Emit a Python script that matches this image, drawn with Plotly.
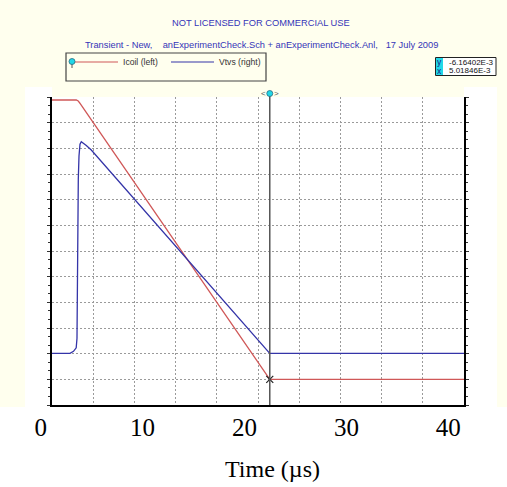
import plotly.graph_objects as go

W, H = 507, 487

# ---- data (time in microseconds) ----
t_icoil = [1.109, 3.494, 3.680, 3.827, 22.48, 41.54]
icoil_mA = [48.25, 48.25, 48.06, 47.67, -6.164, -6.164]

t_vtvs = [1.109, 2.875, 3.219, 3.484, 3.562, 3.611, 3.690, 3.759, 3.857,
          3.984, 4.200, 4.475, 4.966, 22.48, 41.54]
vtvs_V = [10.07, 10.07, 10.45, 11.14, 13.0, 40.0, 44.0, 48.5, 50.8,
          51.29, 51.0, 50.55, 49.68, 10.07, 10.07]

cursor_t = 22.48
cursor_y_text = "-6.16402E-3"
cursor_x_text = "5.01846E-3"

time_ticks = [0, 10, 20, 30, 40]
time_tick_text = ["0", "10", "20", "30", "40"]

# axis ranges
t_range = [1.109, 41.54]
i_range = [-11.164, 48.836]   # 12 divisions of 5 mA
v_range = [0, 60]             # 12 divisions of 5 V

CREAM = "#FFFFEE"
RED = "#D05858"
BLUE = "#3434A8"
GRID = "#9A9A9A"
TITLE_BLUE = "#3535B8"
SANS = "Liberation Sans, Arial, sans-serif"
SERIF = "Liberation Serif, Times New Roman, serif"


def px(x):
    return x / W


def py(y):
    return 1 - y / H


fig = go.Figure()
fig.add_trace(go.Scatter(x=t_icoil, y=icoil_mA, mode="lines", name="Icoil (left)",
                         line=dict(color=RED, width=1.3), yaxis="y", hoverinfo="skip"))
fig.add_trace(go.Scatter(x=t_vtvs, y=vtvs_V, mode="lines", name="Vtvs (right)",
                         line=dict(color=BLUE, width=1.3), yaxis="y2", hoverinfo="skip"))
# cursor crossing marker on Icoil
fig.add_trace(go.Scatter(x=[cursor_t], y=[icoil_mA[-1]], mode="markers",
                         marker=dict(symbol="x-thin", size=7, line=dict(color="#222", width=1.2)),
                         yaxis="y", hoverinfo="skip", showlegend=False))
# carrier for the time-label axis
fig.add_trace(go.Scatter(x=[None], y=[None], xaxis="x2", yaxis="y3",
                         showlegend=False, hoverinfo="skip"))

plot_x0, plot_x1 = 52, 464
plot_y0, plot_y1 = 97, 405

shapes = [
    # cream window background and white panel
    dict(type="rect", xref="paper", yref="paper", x0=0, x1=1, y0=py(407), y1=1,
         fillcolor=CREAM, line=dict(width=0), layer="below"),
    dict(type="rect", xref="paper", yref="paper", x0=px(25), x1=px(plot_x0), y0=py(407), y1=py(87),
         fillcolor="white", line=dict(width=0), layer="below"),
    dict(type="rect", xref="paper", yref="paper", x0=px(plot_x1), x1=px(497), y0=py(407), y1=py(87),
         fillcolor="white", line=dict(width=0), layer="below"),
    dict(type="rect", xref="paper", yref="paper", x0=px(plot_x0), x1=px(plot_x1), y0=py(407), y1=py(plot_y0),
         fillcolor="white", line=dict(width=0), layer="below"),
    # cursor line
    dict(type="line", xref="x", yref="paper", x0=cursor_t, x1=cursor_t, y0=py(plot_y1), y1=py(93),
         line=dict(color="#555555", width=1.5)),
    dict(type="circle", xref="x", yref="paper", xsizemode="pixel", ysizemode="pixel",
         xanchor=cursor_t, yanchor=py(93.5), x0=-3, x1=3, y0=-3, y1=3,
         fillcolor="#20D8E8", line=dict(color="#2A6A80", width=0.8)),
    # legend box
    dict(type="rect", xref="paper", yref="paper", x0=px(66), x1=px(266), y0=py(81), y1=py(53),
         line=dict(color="#444444", width=1.2), fillcolor="rgba(0,0,0,0)"),
    dict(type="line", xref="paper", yref="paper", x0=px(72), x1=px(118), y0=py(62), y1=py(62),
         line=dict(color=RED, width=1.2)),
    dict(type="line", xref="paper", yref="paper", x0=px(72), x1=px(72), y0=py(62), y1=py(68),
         line=dict(color="#555555", width=1)),
    dict(type="circle", xref="paper", yref="paper", x0=px(69), x1=px(75), y0=py(64.5), y1=py(58.5),
         fillcolor="#20D8E8", line=dict(color="#2A6A80", width=0.8)),
    dict(type="line", xref="paper", yref="paper", x0=px(171), x1=px(214), y0=py(62), y1=py(62),
         line=dict(color=BLUE, width=1.2)),
    # cursor readout box
    dict(type="rect", xref="paper", yref="paper", x0=px(435.5), x1=px(496), y0=py(75.5), y1=py(57.5),
         fillcolor="white", line=dict(color="#222222", width=1)),
    dict(type="rect", xref="paper", yref="paper", x0=px(436), x1=px(443), y0=py(75), y1=py(58),
         fillcolor="#22D8E8", line=dict(width=0)),
]


def label(text, x, y, size, color, family=SANS, xanchor="center", xref="paper", xshift=0):
    return dict(text=text, x=x, y=y, xref=xref, yref="paper", xanchor=xanchor,
                yanchor="middle", xshift=xshift, showarrow=False,
                font=dict(family=family, size=size, color=color))


annotations = [
    label("NOT LICENSED FOR COMMERCIAL USE", px(261), py(22.7), 9.3, TITLE_BLUE),
    label("Transient - New,\u00a0\u00a0\u00a0 anExperimentCheck.Sch + anExperimentCheck.Anl,\u00a0\u00a0 17 July 2009",
          px(261.7), py(45), 9.3, TITLE_BLUE),
    label("Icoil (left)", px(121), py(62), 8.6, "#333333", xanchor="left"),
    label("Vtvs (right)", px(217), py(62), 8.6, "#333333", xanchor="left"),
    label("y", px(439.5), py(62.5), 8.5, "#1A1A80"),
    label("x", px(439.5), py(70.5), 8.5, "#1A1A80"),
    label(cursor_y_text, px(446.5), py(62.5), 8, "#111111", xanchor="left"),
    label(cursor_x_text, px(446.5), py(70.5), 8, "#111111", xanchor="left"),
    label("<", cursor_t, py(93.5), 8, "#555555", xref="x", xshift=-6.5),
    label(">", cursor_t, py(93.5), 8, "#555555", xref="x", xshift=6.5),
    label("Time (\u00b5s)", px(272), py(469), 24, "black", family=SERIF),
]

grid_kw = dict(showgrid=True, gridcolor=GRID, gridwidth=1, griddash="2px,2px")

fig.update_layout(
    template="none",
    width=W, height=H,
    margin=dict(l=0, r=0, t=0, b=0, pad=0),
    paper_bgcolor="white",
    plot_bgcolor="rgba(0,0,0,0)",
    showlegend=False,
    shapes=shapes,
    annotations=annotations,
    xaxis=dict(domain=[px(plot_x0), px(plot_x1)], range=t_range, automargin=False,
               tick0=t_range[0], dtick=(t_range[1] - t_range[0]) / 10,
               showticklabels=False, ticks="", zeroline=False,
               showline=True, linecolor="black", linewidth=2, **grid_kw),
    yaxis=dict(domain=[py(plot_y1), py(plot_y0)], range=i_range, automargin=False,
               tick0=i_range[0], dtick=5, showticklabels=False, zeroline=False,
               ticks="outside", ticklen=3, tickcolor="#333",
               minor=dict(ticks="outside", ticklen=2, dtick=5 / 3, tick0=i_range[0],
                          tickcolor="#333", showgrid=False),
               showline=True, linecolor="black", linewidth=2, **grid_kw),
    yaxis2=dict(overlaying="y", side="right", range=v_range, tick0=0, dtick=5, automargin=False,
                showgrid=False, showticklabels=False, zeroline=False,
                ticks="outside", ticklen=3, tickcolor="#333",
                minor=dict(ticks="outside", ticklen=2, dtick=5 / 3, tick0=0,
                           tickcolor="#333", showgrid=False),
                showline=True, linecolor="black", linewidth=2),
    xaxis2=dict(domain=[px(40.7), px(448.3)], range=[0, 40], anchor="y3", automargin=False,
                tickvals=time_ticks, ticktext=time_tick_text, ticks="",
                showgrid=False, showline=False, zeroline=False,
                tickfont=dict(family=SERIF, size=25, color="black")),
    yaxis3=dict(domain=[py(410), py(409)], anchor="x2", visible=False, automargin=False,
                showgrid=False, zeroline=False),
)

fig.write_html("out.html")
